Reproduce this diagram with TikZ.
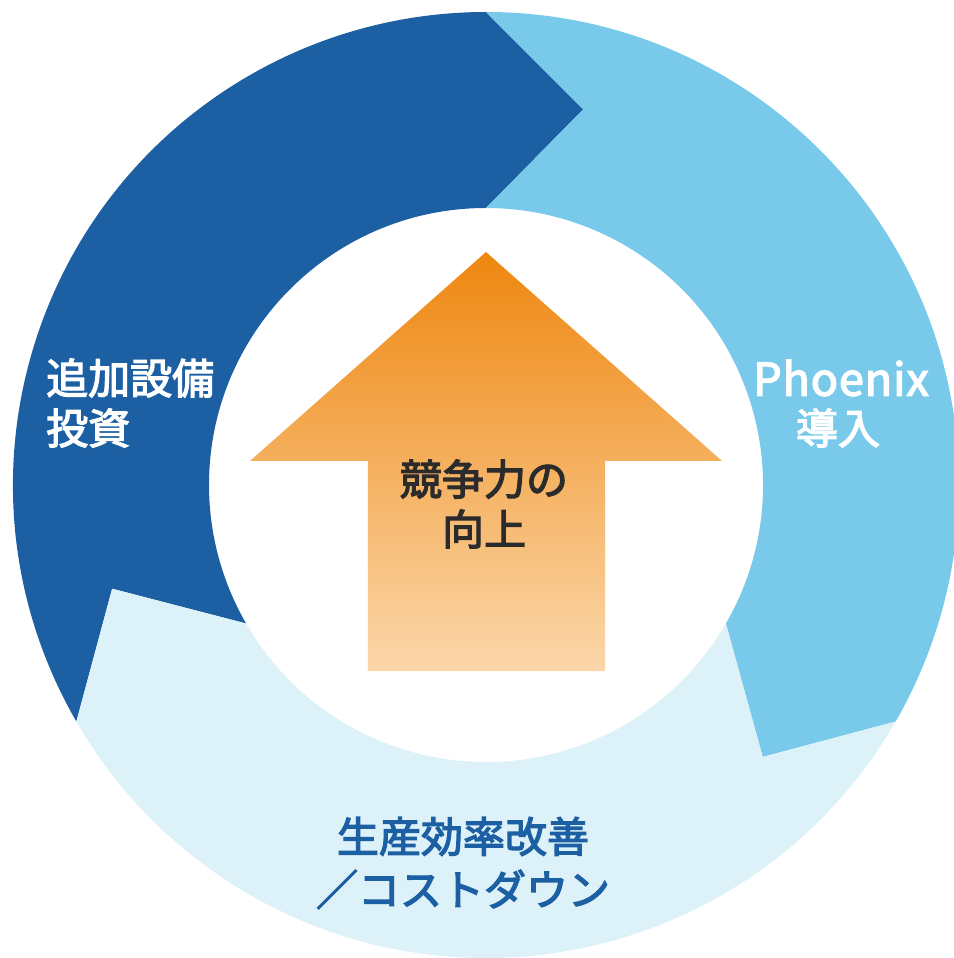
\documentclass[tikz,border=0pt]{standalone}
\usepackage{fontspec}
\newfontfamily\jp[FakeBold=3]{Noto Sans CJK JP}
\newfontfamily\jplat[LetterSpace=2,FakeBold=3]{Noto Sans CJK JP}
\definecolor{darkblue}{HTML}{1C5FA3}
\definecolor{midblue}{HTML}{79CAEA}
\definecolor{paleblue}{HTML}{DDF1F8}
\definecolor{arrowtop}{HTML}{EE8710}
\definecolor{arrowbot}{HTML}{FBD7AA}
\definecolor{txtdark}{HTML}{2B2B2B}
\tikzset{
  seglabel/.style={inner sep=0pt, align=center, font=\jp\fontsize{42}{50}\selectfont},
}
\begin{document}
\begin{tikzpicture}[x=1pt,y=1pt]
\useasboundingbox (-486,-473) rectangle (467,485);
\def\Ro{473}
\def\Ri{277}
\def\Rt{388}
\def\dd{14.5}
% dark segment: 210 -> 90
\fill[darkblue] (210:\Ro) arc[start angle=210, end angle=90, radius=\Ro]
  -- ({90-\dd}:\Rt) -- (90:\Ri) arc[start angle=90, end angle=210, radius=\Ri]
  -- ({210-\dd}:\Rt) -- cycle;
% light blue segment: 90 -> -30
\fill[midblue] (90:\Ro) arc[start angle=90, end angle=-30, radius=\Ro]
  -- ({-30-\dd}:\Rt) -- (-30:\Ri) arc[start angle=-30, end angle=90, radius=\Ri]
  -- ({90-\dd}:\Rt) -- cycle;
% pale segment: -30 -> -150
\fill[paleblue] (-30:\Ro) arc[start angle=-30, end angle=-150, radius=\Ro]
  -- ({-150-\dd}:\Rt) -- (-150:\Ri) arc[start angle=-150, end angle=-30, radius=\Ri]
  -- ({-30-\dd}:\Rt) -- cycle;
% central arrow
\shade[top color=arrowtop, bottom color=arrowbot]
  (0,233) -- (236,24) -- (119,24) -- (119,-186) -- (-118,-186) -- (-118,24) -- (-236,24) -- cycle;
\node[seglabel, text=txtdark] (center) at (-2,-19) {競争力の\\向上};
\node[seglabel, text=white, align=left, anchor=west] (left) at (-440,82) {追加設備\\投資};
\node[inner sep=0pt, text=white, font=\jplat\fontsize{45}{45}\selectfont] (phx) at (355,107) {Phoenix};
\node[seglabel, text=white] (dounyu) at (352,57) {導入};
\node[seglabel, text=darkblue, font=\jp\fontsize{42}{53}\selectfont] (bottom) at (-23,-378) {生産効率改善\\／コストダウン};
\end{tikzpicture}
\end{document}
